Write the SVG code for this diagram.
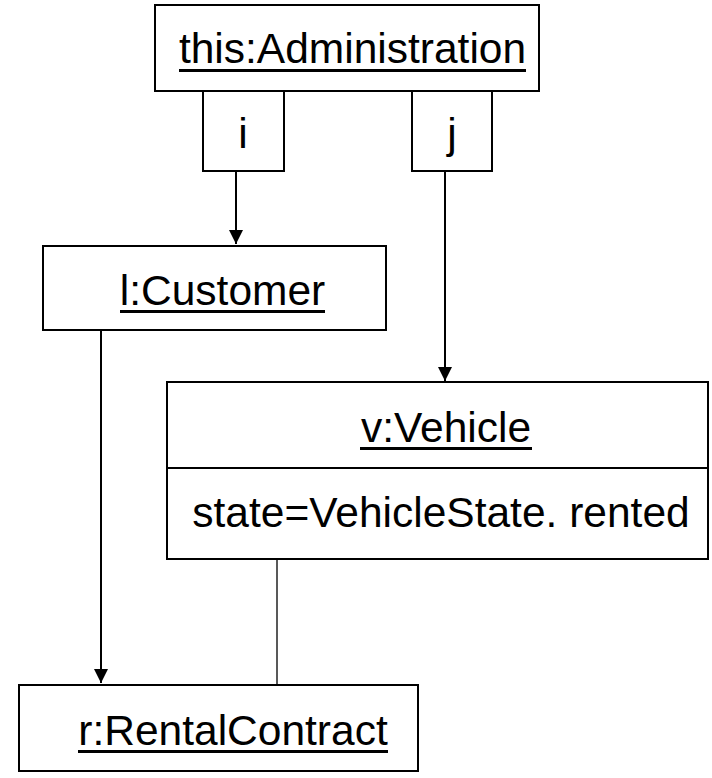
<svg xmlns="http://www.w3.org/2000/svg" width="712" height="778" viewBox="0 0 712 778">
<style>
.box{fill:#fff;stroke:#000;stroke-width:2}
.lbl{font-family:"Liberation Sans",Arial,sans-serif;font-size:42.5px;fill:#000;text-anchor:middle}
.ul{stroke:#000;stroke-width:3}
.conn{stroke:#000;stroke-width:2;fill:none}
.assoc{stroke:#222;stroke-width:1.5;fill:none}
</style>
<defs>
<marker id="arr" markerWidth="14" markerHeight="14" refX="14" refY="7" orient="auto" markerUnits="userSpaceOnUse">
<path d="M0,0 L14,7 L0,14 Z" fill="#000"/>
</marker>
</defs>
<rect width="712" height="778" fill="#fff"/>
<g id="connectors">
<line class="conn" x1="236" y1="171" x2="236" y2="244" marker-end="url(#arr)"/>
<line class="conn" x1="445" y1="171" x2="445" y2="381" marker-end="url(#arr)"/>
<line class="conn" x1="101" y1="330" x2="101" y2="683" marker-end="url(#arr)"/>
<line class="assoc" x1="277" y1="559" x2="277" y2="685"/>
</g>
<g id="administration">
<rect class="box" x="155" y="5" width="384" height="86"/>
<text class="lbl" x="352.5" y="63">this:Administration</text>
<line class="ul" x1="179" y1="70.5" x2="526" y2="70.5"/>
</g>
<g id="qualifier-i">
<rect class="box" x="203" y="91" width="81" height="80"/>
<text class="lbl" x="243" y="148">i</text>
</g>
<g id="qualifier-j">
<rect class="box" x="412" y="91" width="80" height="80"/>
<text class="lbl" x="452" y="148">j</text>
</g>
<g id="customer">
<rect class="box" x="43" y="246" width="343" height="84"/>
<text class="lbl" x="222.5" y="305">l:Customer</text>
<line class="ul" x1="120" y1="311.5" x2="325" y2="311.5"/>
</g>
<g id="vehicle">
<rect class="box" x="167" y="382" width="541" height="177"/>
<line class="conn" x1="167" y1="468" x2="708" y2="468"/>
<text class="lbl" x="446" y="442">v:Vehicle</text>
<line class="ul" x1="360" y1="448.5" x2="532" y2="448.5"/>
<text class="lbl" x="441" y="527">state=VehicleState. rented</text>
</g>
<g id="rentalcontract">
<rect class="box" x="19" y="685" width="399" height="86"/>
<text class="lbl" x="233" y="745">r:RentalContract</text>
<line class="ul" x1="78" y1="751.5" x2="388" y2="751.5"/>
</g>
</svg>
